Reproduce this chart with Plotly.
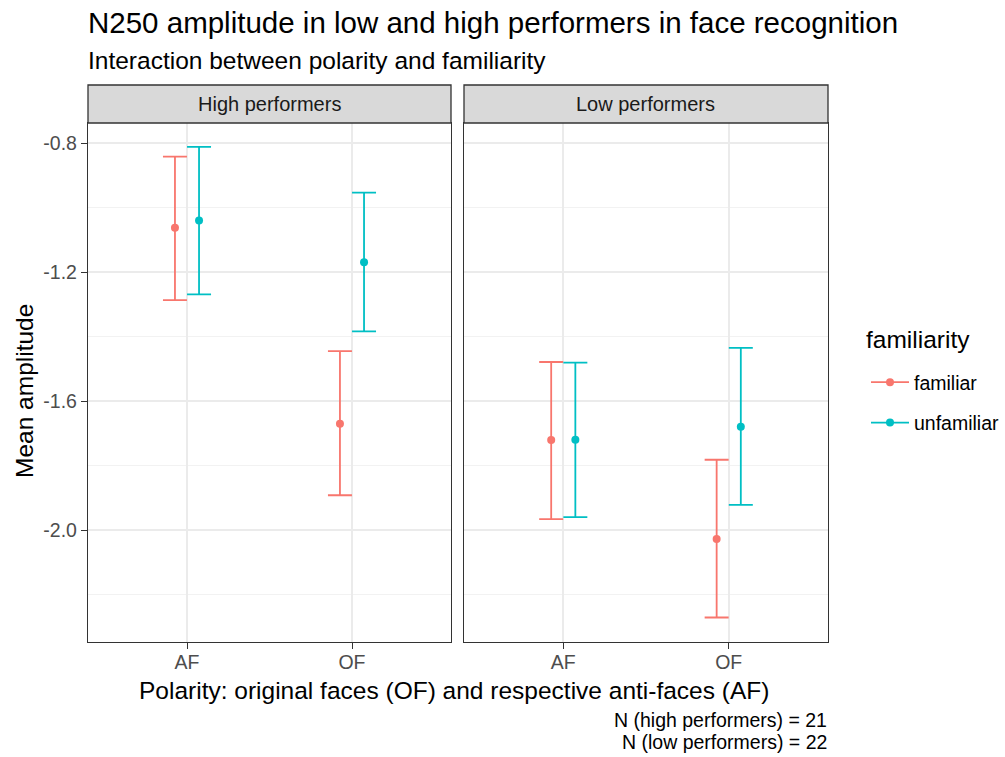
import plotly.graph_objects as go

# ---- data ----
panels = ["High performers", "Low performers"]
polarity = ["AF", "OF"]
familiarity = ["familiar", "unfamiliar"]
y_ticks = [-0.8, -1.2, -1.6, -2.0]
y_minor = [-1.0, -1.4, -1.8, -2.2]

# mean amplitude, lower and upper CI per panel -> familiarity -> [AF, OF]
mean_vals = {
    "High performers": {"familiar": [-1.063, -1.670], "unfamiliar": [-1.040, -1.170]},
    "Low performers": {"familiar": [-1.721, -2.028], "unfamiliar": [-1.720, -1.680]},
}
lower_vals = {
    "High performers": {"familiar": [-1.287, -1.892], "unfamiliar": [-1.269, -1.384]},
    "Low performers": {"familiar": [-1.966, -2.271], "unfamiliar": [-1.960, -1.922]},
}
upper_vals = {
    "High performers": {"familiar": [-0.842, -1.445], "unfamiliar": [-0.812, -0.954]},
    "Low performers": {"familiar": [-1.479, -1.782], "unfamiliar": [-1.481, -1.435]},
}
colors = {"familiar": "#F8766D", "unfamiliar": "#00BFC4"}
dodge = {"familiar": -0.073, "unfamiliar": 0.073}

W, H = 1005, 757
def px(x):
    return x / W
def py(y):
    return 1 - y / H

x_dom = [[px(88), px(451)], [px(464), px(828)]]
y_dom = [py(642), py(123)]
y_range = [-2.347, -0.738]
x_range = [0.4, 2.6]

fig = go.Figure()
FONT = "Liberation Sans, Arial, sans-serif"

for i, p in enumerate(panels):
    xa = "x" if i == 0 else "x2"
    ya = "y" if i == 0 else "y2"
    for f in familiarity:
        xs = [k + 1 + dodge[f] for k in range(len(polarity))]
        m = mean_vals[p][f]
        lo = lower_vals[p][f]
        up = upper_vals[p][f]
        fig.add_trace(go.Scatter(
            x=xs, y=m, mode="markers", xaxis=xa, yaxis=ya,
            marker=dict(color=colors[f], size=8),
            error_y=dict(type="data", symmetric=False,
                         array=[u - v for u, v in zip(up, m)],
                         arrayminus=[v - l for v, l in zip(m, lo)],
                         color=colors[f], thickness=1.8, width=12),
            showlegend=False, name=f, hoverinfo="skip",
        ))

for f in familiarity:
    fig.add_trace(go.Scatter(
        x=[None], y=[None], mode="lines+markers", name=f, legendgroup=f,
        line=dict(color=colors[f], width=1.8),
        marker=dict(color=colors[f], size=8), showlegend=True,
    ))

axis_common = dict(
    showline=True, linecolor="#333333", linewidth=1.3, mirror=True,
    ticklen=6, tickcolor="#333333", tickwidth=1.3,
    tickfont=dict(family=FONT, size=19.5, color="#4D4D4D"),
    zeroline=False,
)
for i in range(2):
    sfx = "" if i == 0 else "2"
    fig.update_layout(**{
        "xaxis" + sfx: dict(
            domain=x_dom[i], range=x_range, tickvals=[1, 2], ticktext=polarity,
            showgrid=True, gridcolor="#EBEBEB", gridwidth=1.5, ticks="outside",
            ticklabelstandoff=-4,
            anchor="y" + sfx, **axis_common),
        "yaxis" + sfx: dict(
            domain=y_dom, range=y_range, tickvals=y_ticks,
            ticktext=[f"{v:.1f}" for v in y_ticks],
            showgrid=True, gridcolor="#EBEBEB", gridwidth=1.5,
            minor=dict(tickvals=y_minor, showgrid=True,
                       gridcolor="#F2F2F2", gridwidth=1, ticks=""),
            showticklabels=(i == 0),
            ticks="outside" if i == 0 else "",
            anchor="x" + sfx, **axis_common),
    })

shapes = []
annotations = []
for i, p in enumerate(panels):
    shapes.append(dict(type="rect", xref="paper", yref="paper",
                       x0=x_dom[i][0], x1=x_dom[i][1], y0=py(123), y1=py(85),
                       fillcolor="#D9D9D9", line=dict(color="#333333", width=1.3)))
    annotations.append(dict(text=p, xref="paper", yref="paper",
                            x=(x_dom[i][0] + x_dom[i][1]) / 2, y=py(104),
                            xanchor="center", yanchor="middle", showarrow=False,
                            font=dict(family=FONT, size=20, color="#1A1A1A")))

annotations += [
    dict(text="N250 amplitude in low and high performers in face recognition",
         xref="paper", yref="paper", x=px(86), y=py(22), xanchor="left", yanchor="middle",
         showarrow=False, font=dict(family=FONT, size=29.5, color="black")),
    dict(text="Interaction between polarity and familiarity",
         xref="paper", yref="paper", x=px(86), y=py(60), xanchor="left", yanchor="middle",
         showarrow=False, font=dict(family=FONT, size=24.5, color="black")),
    dict(text="Polarity: original faces (OF) and respective anti-faces (AF)",
         xref="paper", yref="paper", x=px(454), y=py(690), xanchor="center", yanchor="middle",
         showarrow=False, font=dict(family=FONT, size=24.5, color="black")),
    dict(text="Mean amplitude", textangle=-90,
         xref="paper", yref="paper", x=px(24), y=py(391), xanchor="center", yanchor="middle",
         showarrow=False, font=dict(family=FONT, size=24.5, color="black")),
    dict(text="N (high performers) = 21", align="right",
         xref="paper", yref="paper", x=px(829), y=py(720), xanchor="right", yanchor="middle",
         showarrow=False, font=dict(family=FONT, size=19.5, color="black")),
    dict(text="N (low performers) = 22", align="right",
         xref="paper", yref="paper", x=px(829), y=py(742), xanchor="right", yanchor="middle",
         showarrow=False, font=dict(family=FONT, size=19.5, color="black")),
    dict(text="familiarity",
         xref="paper", yref="paper", x=px(864), y=py(340), xanchor="left", yanchor="middle",
         showarrow=False, font=dict(family=FONT, size=24.5, color="black")),
]

fig.update_layout(
    width=W, height=H,
    margin=dict(l=0, r=0, t=0, b=0),
    paper_bgcolor="white", plot_bgcolor="white",
    shapes=shapes, annotations=annotations,
    legend=dict(font=dict(family=FONT, size=19.5, color="black"),
                x=px(866), y=py(363), xanchor="left", yanchor="top",
                bgcolor="rgba(0,0,0,0)", tracegroupgap=12, itemwidth=38),
    font=dict(family=FONT),
)

fig.write_html("out.html")
